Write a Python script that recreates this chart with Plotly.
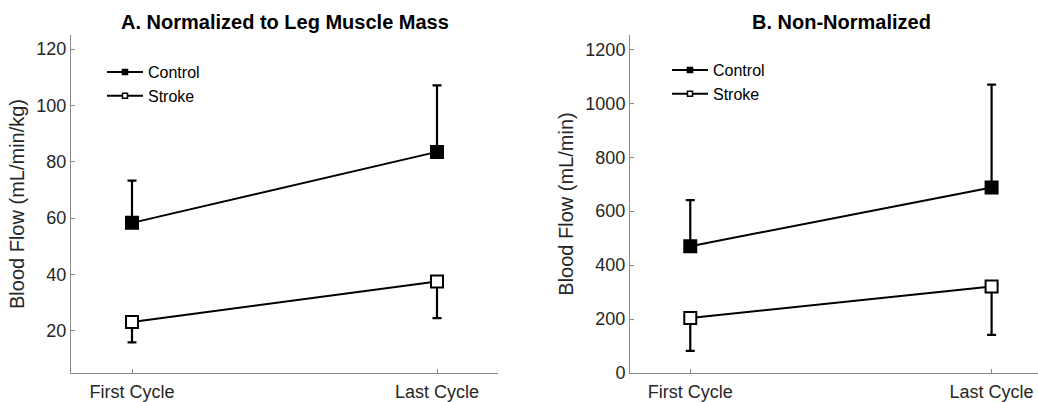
import plotly.graph_objects as go

categories = ["First Cycle", "Last Cycle"]
xpos = [1, 2]

# Panel A: normalized (mL/min/kg)
a_control = [58.3, 83.5]
a_control_err = [15.0, 23.6]
a_stroke = [23.1, 37.5]
a_stroke_err = [7.2, 13.0]

# Panel B: non-normalized (mL/min)
b_control = [470, 688]
b_control_err = [171, 381]
b_stroke = [204, 321]
b_stroke_err = [122, 180]

a_ticks = [20, 40, 60, 80, 100, 120]
b_ticks = [0, 200, 400, 600, 800, 1000, 1200]

FONT = "Arial, Liberation Sans, Helvetica, sans-serif"
TXT = "#262626"
AX = "#8a8a8a"

W, H = 1038, 402
def px(x):
    return x / W
def py(y):
    return 1 - y / H

fig = go.Figure()

def add_series(y, err, fill, xa, ya, up):
    fig.add_trace(go.Scatter(
        x=xpos, y=y, mode="lines+markers", xaxis=xa, yaxis=ya,
        line=dict(color="black", width=2),
        marker=dict(symbol="square", size=12, color=fill, line=dict(color="black", width=2)),
        error_y=dict(type="data", symmetric=False,
                     array=err if up else [0, 0],
                     arrayminus=[0, 0] if up else err,
                     color="black", thickness=2.2, width=4.5),
        showlegend=False, cliponaxis=False,
    ))

add_series(a_control, a_control_err, "black", "x", "y", True)
add_series(a_stroke, a_stroke_err, "white", "x", "y", False)
add_series(b_control, b_control_err, "black", "x2", "y2", True)
add_series(b_stroke, b_stroke_err, "white", "x2", "y2", False)

# legend entries
for name, fill, lg, xa, ya in [("Control", "black", "legend", "x", "y"),
                               ("Stroke", "white", "legend", "x", "y"),
                               ("Control", "black", "legend2", "x2", "y2"),
                               ("Stroke", "white", "legend2", "x2", "y2")]:
    fig.add_trace(go.Scatter(
        x=[None], y=[None], mode="lines+markers", name=name, legend=lg,
        xaxis=xa, yaxis=ya,
        line=dict(color="black", width=2),
        marker=dict(symbol="square", size=5, color=fill, line=dict(color="black", width=1.5)),
    ))

ydom = [py(373), py(35)]
axis_common = dict(showline=True, linecolor=AX, linewidth=1, ticks="inside",
                   tickcolor=AX, ticklen=4, showgrid=False, zeroline=False,
                   automargin=False,
                   tickfont=dict(family=FONT, size=18, color=TXT))
xextra = dict(ticklabelstandoff=2)

fig.update_layout(
    width=W, height=H,
    margin=dict(l=0, r=0, t=0, b=0, autoexpand=False),
    paper_bgcolor="white", plot_bgcolor="white",
    font=dict(family=FONT, color=TXT),
    xaxis=dict(domain=[px(71), px(498)], range=[0.8, 2.2], tickvals=xpos,
               ticktext=categories, anchor="y", **axis_common, **xextra),
    yaxis=dict(domain=ydom, range=[5, 125], tickvals=a_ticks, anchor="x",
               title=dict(text="Blood Flow (mL/min/kg)", font=dict(family=FONT, size=20, color=TXT), standoff=6),
               **axis_common),
    xaxis2=dict(domain=[px(630), 1.0], range=[0.8, 2.154], tickvals=xpos,
                ticktext=categories, anchor="y2", **axis_common, **xextra),
    yaxis2=dict(domain=ydom, range=[0, 1253], tickvals=b_ticks, anchor="x2",
                title=dict(text="Blood Flow (mL/min)", font=dict(family=FONT, size=20, color=TXT), standoff=6),
                **axis_common),
    legend=dict(x=px(102), y=py(55), xanchor="left", yanchor="top",
                bgcolor="rgba(0,0,0,0)", font=dict(family=FONT, size=16, color="black"),
                itemwidth=36, tracegroupgap=0),
    legend2=dict(x=px(667), y=py(53), xanchor="left", yanchor="top",
                 bgcolor="rgba(0,0,0,0)", font=dict(family=FONT, size=16, color="black"),
                 itemwidth=36, tracegroupgap=0),
    annotations=[
        dict(text="<b>A. Normalized to Leg Muscle Mass</b>", x=px(284.5), y=py(22),
             xref="paper", yref="paper", showarrow=False, xanchor="center", yanchor="middle",
             font=dict(family=FONT, size=20, color="black")),
        dict(text="<b>B. Non-Normalized</b>", x=px(841), y=py(22),
             xref="paper", yref="paper", showarrow=False, xanchor="center", yanchor="middle",
             font=dict(family=FONT, size=20, color="black")),
    ],
)

fig.write_html("out.html")
